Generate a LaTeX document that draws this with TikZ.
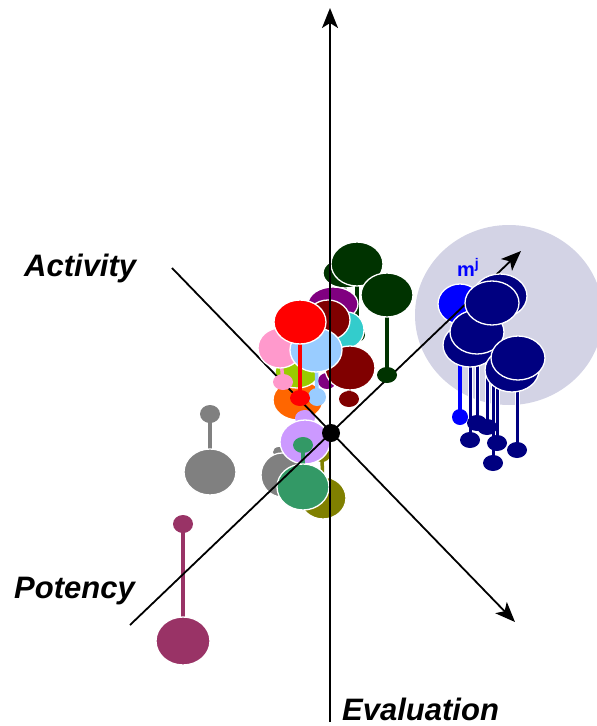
\documentclass[tikz,border=0pt]{standalone}
\usepackage{fontspec}
\setmainfont{Liberation Sans}
\usetikzlibrary{arrows.meta}

\definecolor{dkgreen}{HTML}{003300}
\definecolor{purp}{HTML}{800080}
\definecolor{maroon}{HTML}{800000}
\definecolor{turq}{HTML}{33CCCC}
\definecolor{rose}{HTML}{FF99CC}
\definecolor{skyblue}{HTML}{99CCFF}
\definecolor{ygreen}{HTML}{99CC00}
\definecolor{orng}{HTML}{FF6600}
\definecolor{lavender}{HTML}{CC99FF}
\definecolor{seagreen}{HTML}{339966}
\definecolor{grey}{HTML}{808080}
\definecolor{olv}{HTML}{808000}
\definecolor{plum}{HTML}{993366}
\definecolor{navyblue}{HTML}{000080}
\definecolor{brightblue}{HTML}{0000FF}
\definecolor{clusterfill}{HTML}{D3D3E5}

% #1 colour, #2 big centre, #3 big radii, #4 small centre, #5 small radii
\newcommand{\ball}[5]{%
  \draw[stick, #1] (#2) -- (#4);
  \fill[#1] (#4) ellipse (#5);
  \draw[bigball, fill=#1] (#2) ellipse (#3);
}

\begin{document}
\begin{tikzpicture}[x=1pt, y=-1pt,
        axis/.style={line width=1.8pt, -{Stealth[length=20pt, width=16pt, inset=5pt]}},
        stick/.style={line width=3.5pt},
        bigball/.style={draw=white, line width=1.3pt},
        navystick/.style={draw=white, line width=1pt, double=navyblue, double distance=3pt},
        axislabel/.style={font=\fontsize{31}{36}\selectfont\bfseries\itshape, inner sep=0pt}]
    \useasboundingbox (0,0) rectangle (597,726);

    % cluster region
    \fill[clusterfill] (509,315) ellipse (94pt and 90pt);

    % balloons behind the axes
    \ball{plum}{183,641}{27pt and 24pt}{183,524}{10pt and 9pt}
    \ball{grey}{210,472}{26pt and 23pt}{210,414}{10pt and 9pt}
    \ball{dkgreen}{345,273}{22pt and 15pt}{345,322}{8pt and 7pt}
    \ball{dkgreen}{357,264}{26pt and 22pt}{357,335}{8pt and 7pt}
    \ball{purp}{333,304}{25pt and 17pt}{327,381}{9pt and 8pt}
    \draw[bigball, fill=turq] (347,330) ellipse (17pt and 18pt);
    \draw[bigball, fill=maroon] (328,320) ellipse (22pt and 20pt);
    \ball{maroon}{350,368}{25pt and 22pt}{349,399}{10pt and 8pt}
    \draw[bigball, fill=orng] (298,400) ellipse (25pt and 20pt);
    \draw[bigball, fill=ygreen] (297,372) ellipse (22pt and 16pt);
    \ball{olv}{323,498}{23pt and 21pt}{322,455}{8pt and 7pt}
    \ball{grey}{282,475}{21pt and 22pt}{279,452}{6pt and 5pt}
    \ball{lavender}{305,442}{25pt and 22pt}{305,418}{10pt and 8pt}
    \ball{seagreen}{303,487}{26pt and 23pt}{303,445}{10pt and 8pt}
    \ball{brightblue}{460,304}{22pt and 20pt}{460,417}{8pt and 8pt}

    % diagonal axes
    \coordinate (origin) at (331,433);
    \coordinate (act start) at (172,268);
    \coordinate (act end) at (515,622);
    \coordinate (pot start) at (130,625);
    \coordinate (pot end) at (521,251);
    \draw[axis] (act start) -- (act end);
    \draw[axis] (pot start) -- (pot end);

    % balloons in front of the axes
    \ball{dkgreen}{387,295}{26pt and 22pt}{387,375}{10pt and 8pt}
    \ball{rose}{280,348}{22pt and 20pt}{283,382}{10pt and 8pt}
    \ball{skyblue}{316,350}{26pt and 22pt}{317,397}{9pt and 9pt}
    \ball{red}{300,322}{26pt and 22pt}{300,398}{10pt and 8pt}

    % navy cluster
    \foreach \sx/\by/\sy in {470/345/440, 477/332/423, 493/296/463,
                             487/303/427, 497/370/443, 517/358/450}
        \draw[navystick] (\sx,\by) -- (\sx,\sy);
    \foreach \sx/\sy in {470/440, 477/423, 493/463, 487/427, 497/443, 517/450}
        \fill[navyblue] (\sx,\sy) ellipse (10pt and 8pt);
    \foreach \bx/\by in {470/345, 477/332, 500/296, 492/303, 512/370, 518/358}
        \draw[bigball, fill=navyblue] (\bx,\by) ellipse (27pt and 22pt);
    \node[anchor=base west, inner sep=0pt, text=brightblue,
          font=\fontsize{20}{24}\selectfont\bfseries] (mj) at (457,276) {m\textsuperscript{j}};

    % vertical axis and origin
    \coordinate (eval start) at (330,722);
    \coordinate (eval end) at (330,8);
    \draw[axis] (eval start) -- (eval end);
    \fill (origin) circle (9pt);

    % axis labels
    \node[axislabel, anchor=base west] (activity) at (24,276) {Activity};
    \node[axislabel, anchor=base west] (potency) at (14,598) {Potency};
    \node[axislabel, anchor=base west] (evaluation) at (342,720) {Evaluation};
\end{tikzpicture}
\end{document}
